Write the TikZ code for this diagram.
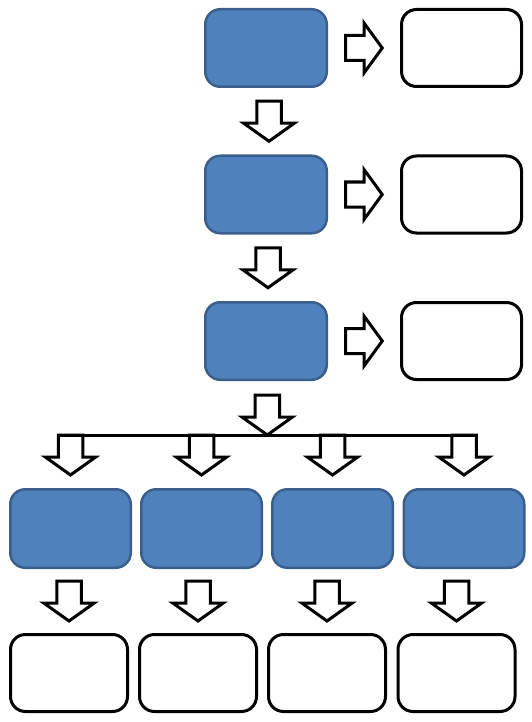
\documentclass[tikz,border=0pt]{standalone}
\usetikzlibrary{calc}
\definecolor{boxblue}{RGB}{79,129,189}
\definecolor{boxedge}{RGB}{58,95,140}
\begin{document}
\begin{tikzpicture}[x=1pt,y=-1pt,
  bluebox/.style={draw=boxedge, fill=boxblue, line width=2.5pt, rounded corners=15pt, minimum width=121.5pt, minimum height=77.5pt, inner sep=0pt},
  bluebot/.style={bluebox, minimum width=120.5pt, minimum height=78.5pt},
  whitebox/.style={draw=black, fill=white, line width=3pt, rounded corners=15pt, minimum width=120pt, minimum height=77pt, inner sep=0pt},
  whitebot/.style={whitebox, minimum width=117pt},
  arrowline/.style={draw=black, fill=white, line width=3pt, line join=miter},
  barline/.style={draw=black, line width=3pt},
  darr/.pic={\path[arrowline] (-12.25,0) -- (-12.25,22) -- (-25.25,22) -- (0,40) -- (25.25,22) -- (12.25,22) -- (12.25,0) -- cycle;},
  rarr/.pic={\path[arrowline] (-18.5,-12.5) -- (0,-12.5) -- (0,-25) -- (18.25,0) -- (0,25) -- (0,12.5) -- (-18.5,12.5) -- cycle;}
]
\useasboundingbox (0,0) rectangle (531,722);
% top column
\node[bluebox] (b1) at (266,48) {};
\node[bluebox] (b2) at (266,194.5) {};
\node[bluebox] (b3) at (266,341) {};
\node[whitebox] (w1) at (461.5,48) {};
\node[whitebox] (w2) at (461.5,194.5) {};
\node[whitebox] (w3) at (461.5,341) {};
% bottom rows
\node[bluebot] (bb1) at (70.5,528.5) {};
\node[bluebot] (bb2) at (201.5,528.5) {};
\node[bluebot] (bb3) at (332.5,528.5) {};
\node[bluebot] (bb4) at (464,528.5) {};
\node[whitebot] (wb1) at (69,673) {};
\node[whitebot] (wb2) at (198,673) {};
\node[whitebot] (wb3) at (327,673) {};
\node[whitebot] (wb4) at (456.5,673) {};
% right arrows
\foreach \i in {1,2,3}{
  \pic at ($(b\i.east)!0.5!(w\i.west)$) {rarr};
}
% down arrows in the column
\pic at ($(b1.south)!0.5!(b2.north)+(3,-20)$) {darr};
\pic at ($(b2.south)!0.5!(b3.north)+(2,-20)$) {darr};
% branching bar
\coordinate (hl) at ($(bb1.north)+(-12.25,-53)$);
\coordinate (hr) at ($(bb4.north)+(12.25,-53)$);
\coordinate (hub) at ($(hl)!0.5!(hr)$);
\pic at ($(hub)+(0,-40)$) {darr};
\foreach \i in {1,2,3,4}{
  \pic at ($(bb\i.north)+(0,-53)$) {darr};
}
\draw[barline] (hl) -- (hr);
% down arrows to the bottom boxes
\foreach \i in {1,2,3,4}{
  \pic at ($(wb\i.north)!0.5!(wb\i.north|-bb\i.south)+(0,-20)$) {darr};
}
\end{tikzpicture}
\end{document}
